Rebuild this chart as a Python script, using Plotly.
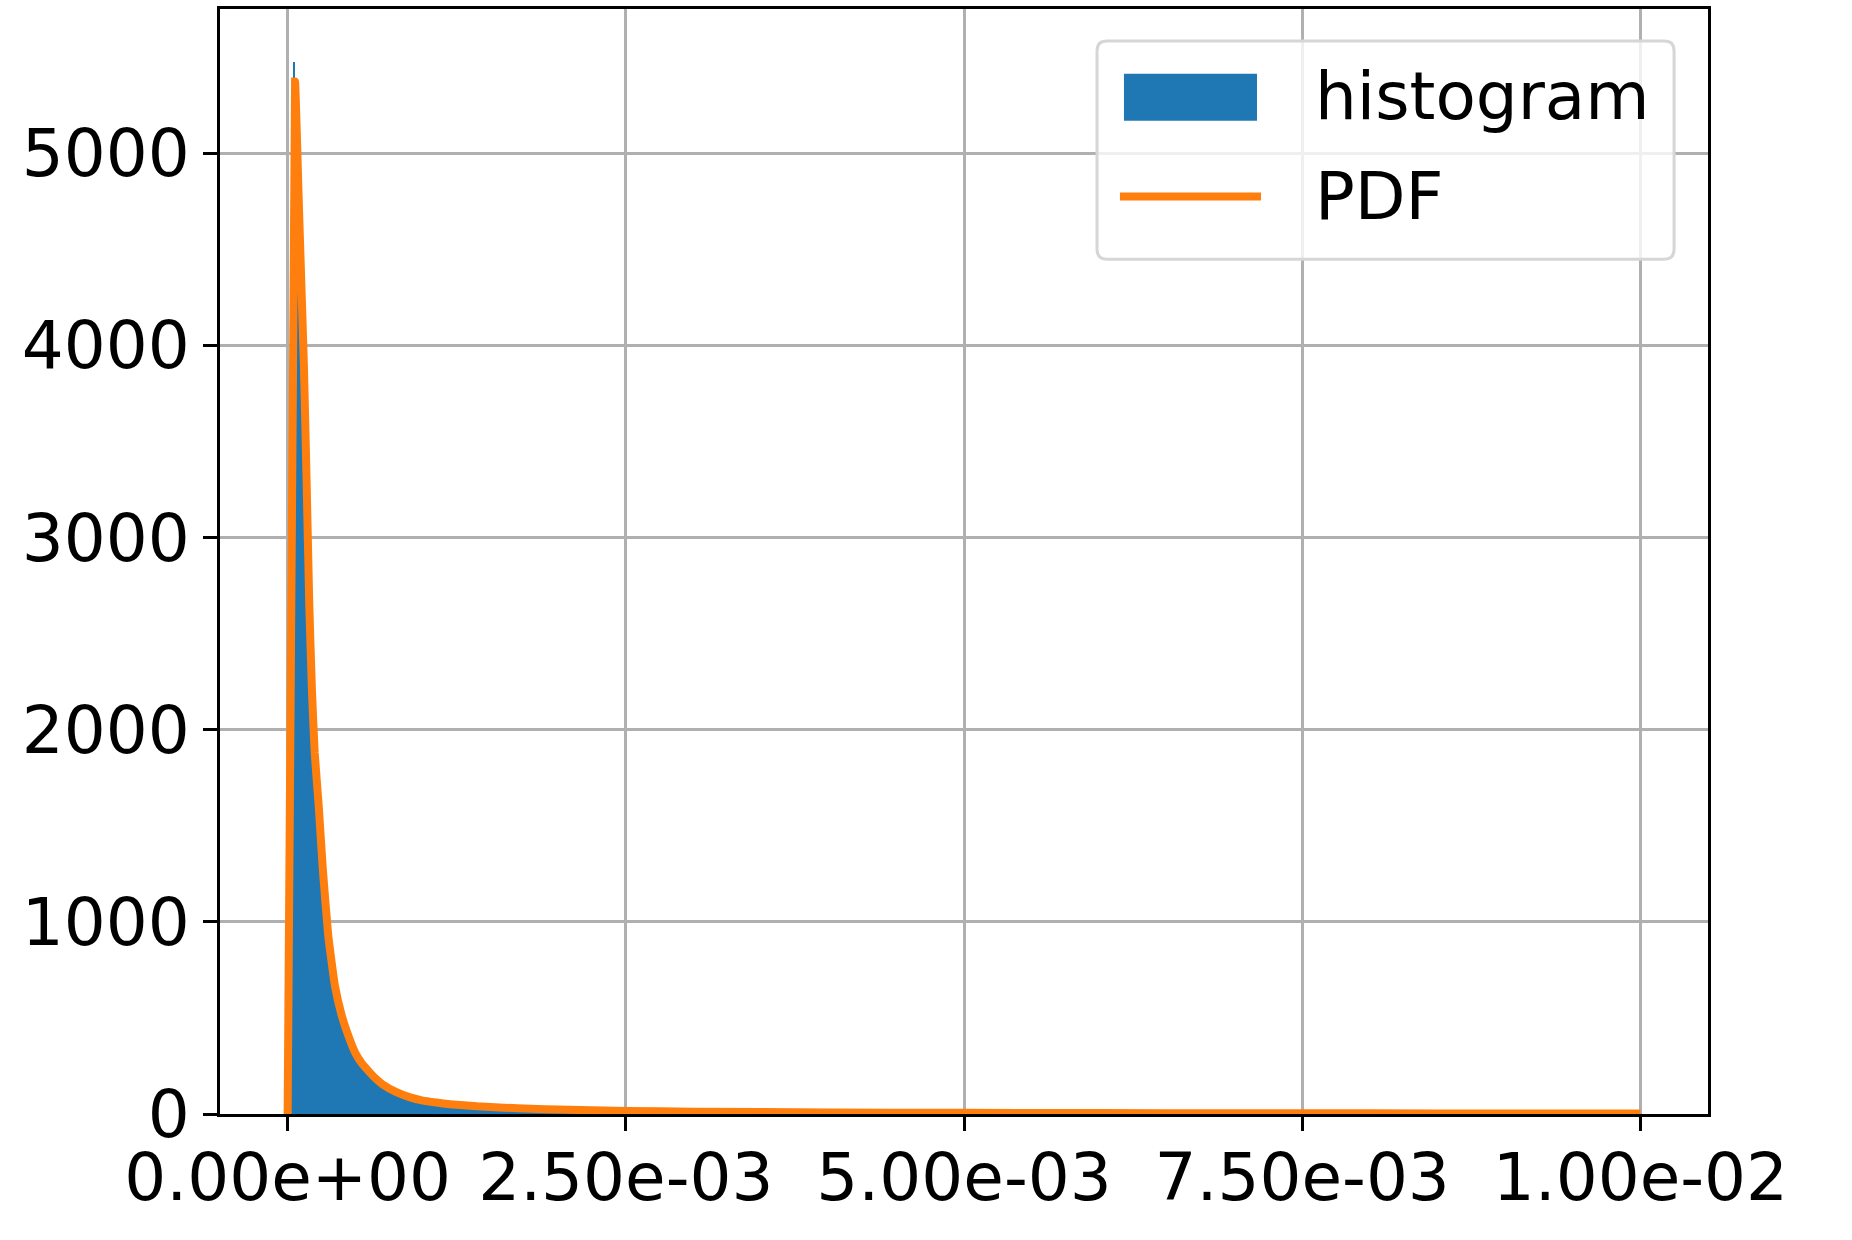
import numpy as np
import plotly.graph_objects as go

# histogram heights (density)
# fine bins of 1e-5 from 0 to 6e-4
hist_fine = [0, 200, 1500, 3500, 5475, 5330, 5150, 4950, 4720, 4480,
             4250, 4020, 3780, 3500, 3180, 2880, 2560, 2330, 2150, 2000,
             1860, 1740, 1640, 1520, 1410, 1310, 1220, 1130, 1040, 960,
             900, 840, 780, 730, 685, 640, 600, 565, 535, 510,
             488, 462, 440, 420, 402, 386, 370, 355, 341, 328,
             316, 304, 293, 282, 271, 261, 251, 242, 233, 225]
# bins of 5e-5 from 6e-4 to 2e-3
hist_mid = [203, 170, 144, 124, 108, 95, 83, 74, 67, 62,
            58, 53, 49, 46, 43, 41, 39, 37, 35, 34,
            32, 31, 29, 28, 27, 26, 25, 24]
# bins of 5e-4 from 2e-3 to 1e-2
hist_tail = [19, 14, 11, 9, 8, 7, 6, 5.5, 5, 4.5, 4, 3.5, 3.5, 3, 3, 2.5]

# PDF curve
pdf_x = [0, 0.000055, 0.00007, 0.00008, 0.0001, 0.00012, 0.00014, 0.00016,
         0.00018, 0.0002, 0.00023, 0.00026, 0.0003, 0.00035, 0.0004, 0.00045,
         0.0005, 0.00055, 0.0006, 0.00065, 0.0007, 0.0008, 0.0009, 0.001,
         0.0011, 0.0012, 0.0014, 0.0016, 0.0018, 0.002, 0.0025, 0.003, 0.004,
         0.005, 0.006, 0.007, 0.008, 0.009, 0.01]
pdf_y = [0, 5373, 5050, 4800, 4350, 3900, 3300, 2650,
         2200, 1880, 1600, 1275, 930, 666, 512, 405,
         318, 262, 222, 185, 155, 115, 88, 70,
         60, 51, 40, 33, 27, 23, 16, 12, 8,
         6, 5, 4, 3.5, 3, 2.5]

x_ticks = [0, 0.0025, 0.005, 0.0075, 0.01]
x_ticktext = ["0.00e+00", "2.50e-03", "5.00e-03", "7.50e-03", "1.00e-02"]
y_ticks = [0, 1000, 2000, 3000, 4000, 5000]


def bins(start, width, heights):
    n = len(heights)
    left = start + width * np.arange(n)
    return left + width / 2, np.full(n, width), np.array(heights, dtype=float)


parts = [bins(0.0, 1e-5, hist_fine), bins(0.0006, 5e-5, hist_mid), bins(0.002, 5e-4, hist_tail)]
centers = np.concatenate([p[0] for p in parts])
widths = np.concatenate([p[1] for p in parts])
heights = np.concatenate([p[2] for p in parts])

BLUE = "#1f77b4"
ORANGE = "#ff7f0e"
FONT = "DejaVu Sans"
FS = 66

fig = go.Figure()
fig.add_trace(go.Bar(x=centers, y=heights, width=widths, marker=dict(color=BLUE, line=dict(width=0)),
                     name="histogram", showlegend=False))
fig.add_trace(go.Scatter(x=pdf_x, y=pdf_y, mode="lines",
                         line=dict(color=ORANGE, width=8, shape="spline", smoothing=0.4),
                         name="PDF", showlegend=False))

axis_common = dict(showline=True, linecolor="black", linewidth=3, mirror=True,
                   ticks="outside", ticklen=14, tickwidth=3, tickcolor="black",
                   showgrid=True, gridcolor="#b0b0b0", gridwidth=3, zeroline=False,
                   tickfont=dict(family=FONT, size=FS, color="black"))

fig.update_layout(
    width=1852, height=1240,
    margin=dict(l=220, r=144, t=6, b=126),
    paper_bgcolor="white", plot_bgcolor="white",
    bargap=0,
    xaxis=dict(range=[-0.0005, 0.0105], tickvals=x_ticks, ticktext=x_ticktext,
               ticklabelstandoff=-10, **axis_common),
    yaxis=dict(range=[0, 5750], tickvals=y_ticks, **axis_common),
)

# legend box drawn by hand (matplotlib style, large swatches)
x0, x1, y0, y1 = 0.5894, 0.9772, 0.7735, 0.9711
rx, ry = 0.0067, 0.009
path = (f"M {x0+rx},{y1} L {x1-rx},{y1} Q {x1},{y1} {x1},{y1-ry} L {x1},{y0+ry} "
        f"Q {x1},{y0} {x1-rx},{y0} L {x0+rx},{y0} Q {x0},{y0} {x0},{y0+ry} "
        f"L {x0},{y1-ry} Q {x0},{y1} {x0+rx},{y1} Z")
fig.add_shape(type="path", path=path, xref="paper", yref="paper",
              fillcolor="rgba(255,255,255,0.8)", line=dict(color="#d6d6d6", width=3), layer="above")
fig.add_shape(type="rect", xref="paper", yref="paper", x0=0.6075, x1=0.6969, y0=0.8989, y1=0.9414,
              fillcolor=BLUE, line=dict(width=0), layer="above")
fig.add_shape(type="line", xref="paper", yref="paper", x0=0.6048, x1=0.6996, y0=0.8303, y1=0.8303,
              line=dict(color=ORANGE, width=8), layer="above")
for label, yy in [("histogram", 0.9206), ("PDF", 0.8303)]:
    fig.add_annotation(text=label, xref="paper", yref="paper", x=0.7345, y=yy,
                       xanchor="left", yanchor="middle", showarrow=False,
                       font=dict(family=FONT, size=FS, color="black"))

fig.write_html("out.html", config={"displayModeBar": False},
               post_script="document.body.style.margin='0';")
